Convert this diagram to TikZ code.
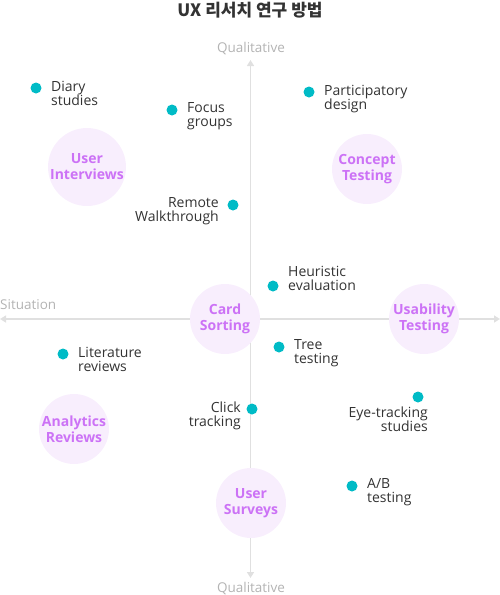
\documentclass[tikz,border=0pt]{standalone}
\usepackage{fontspec}
\setmainfont{Open Sans}
\newfontfamily\krfont{Noto Sans CJK KR}
\usetikzlibrary{arrows.meta}
\definecolor{dotc}{HTML}{00BBC6}
\definecolor{purp}{HTML}{CC72F6}
\definecolor{circf}{HTML}{F8EEFD}
\definecolor{txt}{HTML}{333333}
\definecolor{axisc}{HTML}{E0E0E0}
\definecolor{axlab}{HTML}{B3B3B3}
\tikzset{
  method/.style={circle, fill=circf, minimum size=70pt, inner sep=0pt, text=purp, font=\bfseries\fontsize{14}{16}\selectfont, align=center},
  dotn/.style={circle, fill=dotc, minimum size=11pt, inner sep=0pt},
  lbl/.style={text=txt, font=\fontsize{14}{14}\selectfont, inner sep=0pt},
  axlabel/.style={text=axlab, font=\fontsize{13.5}{15}\selectfont, inner sep=0pt},
  axisline/.style={draw=axisc, line width=1.5pt, -{Triangle[length=6pt,width=7pt]}}
}
\begin{document}
\begin{tikzpicture}[x=1pt,y=-1pt]
\useasboundingbox (0,0) rectangle (500,595);
% title
\node[text=txt, font=\krfont\bfseries\fontsize{17}{19}\selectfont] (title) at (250,10.5) {UX 리서치 연구 방법};
% axes
\coordinate (vtop) at (250.5,60);
\coordinate (vbot) at (250.5,578);
\coordinate (hl) at (0,319);
\coordinate (hr) at (500,319);
\coordinate (ctr) at (250.5,319);
\draw[axisline] (ctr) -- (vtop);
\draw[axisline] (ctr) -- (vbot);
\draw[axisline] (ctr) -- (hl);
\draw[axisline] (ctr) -- (hr);
\node[axlabel] (qtop) at (251,49) {Qualitative};
\node[axlabel] (qbot) at (251,589) {Qualitative};
\node[axlabel, anchor=west] (sit) at (0,305) {Situation};
% methods
\node[method] (ui) at (87,167) {User\\Interviews};
\node[method] (ct) at (367,169) {Concept\\Testing};
\node[method] (cs) at (225,319) {Card\\Sorting};
\node[method] (ut) at (424,319) {Usability\\Testing};
\node[method] (ar) at (74,429) {Analytics\\Reviews};
\node[method] (us) at (251,503) {User\\Surveys};
% dots
\node[dotn] (d1) at (36,88) {};
\node[lbl, anchor=north west, align=left] (t1) at (51,80.7) {Diary\\studies};
\node[dotn] (d2) at (172,110) {};
\node[lbl, anchor=north west, align=left] (t2) at (187,102.7) {Focus\\groups};
\node[dotn] (d3) at (309,92) {};
\node[lbl, anchor=north west, align=left] (t3) at (324,84.7) {Participatory\\design};
\node[dotn] (d4) at (233,205) {};
\node[lbl, anchor=north east, align=right] (t4) at (219,197.7) {Remote\\Walkthrough};
\node[dotn] (d5) at (273,286) {};
\node[lbl, anchor=north west, align=left] (t5) at (288,265.7) {Heuristic\\evaluation};
\node[dotn] (d6) at (279,347) {};
\node[lbl, anchor=north west, align=left] (t6) at (294,339.7) {Tree\\testing};
\node[dotn] (d7) at (63,354) {};
\node[lbl, anchor=north west, align=left] (t7) at (78,346.7) {Literature\\reviews};
\node[dotn] (d8) at (252,409) {};
\node[lbl, anchor=north east, align=right] (t8) at (241,401.7) {Click\\tracking};
\node[dotn] (d9) at (418,397) {};
\node[lbl, anchor=north east, align=right] (t9) at (428,406.7) {Eye-tracking\\studies};
\node[dotn] (d10) at (352,486) {};
\node[lbl, anchor=north west, align=left] (t10) at (367,478.7) {A/B\\testing};
\end{tikzpicture}
\end{document}
